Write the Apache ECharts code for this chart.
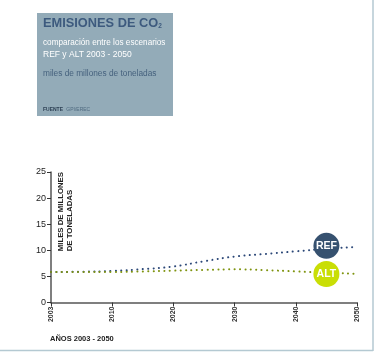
<!DOCTYPE html>
<html>
<head>
<meta charset="utf-8">
<script src="https://cdn.jsdelivr.net/npm/echarts@6/dist/echarts.min.js"></script>
<style>
html,body{margin:0;padding:0;background:#fff;}
#c{width:381px;height:354px;}
</style>
</head>
<body>
<div id="c"></div>
<script>
// tick labels (equally spaced on the axis)
var tickLabels = ['2003', '2010', '2020', '2030', '2040', '2050'];
// positions along the axis (index of tick, halves between ticks)
var positions = [0, 0.5, 1, 1.5, 2, 2.5, 3, 3.5, 4, 4.5, 5];
var refValues = [5.85, 5.9, 6.05, 6.4, 6.9, 7.9, 8.8, 9.3, 9.8, 10.3, 10.65];
var altValues = [5.85, 5.85, 5.85, 5.95, 6.1, 6.25, 6.35, 6.2, 5.95, 5.7, 5.5];
var yTicks = [0, 5, 10, 15, 20, 25];
var badgePos = 4.5;
var refBadge = 10.85;
var altBadge = 5.45;

function pairs(xs, ys) { return xs.map(function (x, i) { return [x, ys[i]]; }); }

var chart = echarts.init(document.getElementById('c'), null, {renderer: 'canvas'});
var fontF = '"Liberation Sans", Arial, sans-serif';
chart.setOption({
  animation: false,
  backgroundColor: '#ffffff',
  grid: {left: 51, right: 24, top: 172, bottom: 51.5},
  xAxis: {
    type: 'value', min: 0, max: 5, interval: 1,
    axisLine: {lineStyle: {color: '#555', width: 1.5}},
    axisTick: {show: true, length: 4, lineStyle: {color: '#333', width: 1}},
    splitLine: {show: false},
    axisLabel: {
      formatter: function (v) { return tickLabels[Math.round(v)] || ''; },
      rotate: 90, fontSize: 7, fontWeight: 'bold', color: '#333', fontFamily: fontF, margin: 4
    }
  },
  yAxis: {
    type: 'value', min: yTicks[0], max: yTicks[yTicks.length - 1], interval: 5,
    axisLine: {show: true, lineStyle: {color: '#555', width: 1.5}},
    axisTick: {show: true, length: 4, lineStyle: {color: '#333', width: 1}},
    splitLine: {show: false},
    axisLabel: {fontSize: 9, color: '#222', fontFamily: fontF, margin: 5}
  },
  series: [
    {
      type: 'line', smooth: true, symbol: 'none',
      data: pairs(positions, refValues),
      lineStyle: {color: '#2c4878', width: 2, type: [0.1, 5.3], cap: 'round'},
      z: 2
    },
    {
      type: 'line', smooth: true, symbol: 'none',
      data: pairs(positions, altValues),
      lineStyle: {color: '#7f9410', width: 2, type: [0.1, 5.3], cap: 'round'},
      z: 2
    },
    {
      type: 'scatter', symbol: 'circle', symbolSize: 26,
      itemStyle: {opacity: 1},
      data: [{value: [badgePos, refBadge], itemStyle: {color: '#36516f', opacity: 1}, label: {formatter: 'REF'}},
             {value: [badgePos, altBadge], itemStyle: {color: '#c9de05', opacity: 1}, label: {formatter: 'ALT'}}],
      label: {show: true, position: 'inside', color: '#ffffff', fontSize: 10.5, fontWeight: 'bold', fontFamily: fontF},
      z: 5
    }
  ],
  graphic: [
    {type: 'rect', shape: {x: 37, y: 13, width: 136, height: 103}, style: {fill: '#93abb8'}, z: 1},
    {type: 'text', z: 5, left: 43, top: 17, style: {
      text: '{t|EMISIONES DE CO}{s|2}',
      rich: {
        t: {fontSize: 12.8, fontWeight: 'bold', fill: '#3d5a7e', fontFamily: fontF},
        s: {fontSize: 6.5, fontWeight: 'bold', fill: '#3d5a7e', fontFamily: fontF, padding: [6, 0, 0, 0]}
      }}},
    {type: 'text', z: 5, left: 43, top: 39, style: {text: 'comparación entre los escenarios', fill: '#ffffff', fontSize: 8.2, fontFamily: fontF}},
    {type: 'text', z: 5, left: 43, top: 50, style: {text: 'REF y ALT 2003 - 2050', fill: '#ffffff', fontSize: 8.5, fontFamily: fontF}},
    {type: 'text', z: 5, left: 43, top: 70, style: {text: 'miles de millones de toneladas', fill: '#46627e', fontSize: 8.3, fontFamily: fontF}},
    {type: 'text', z: 5, left: 43, top: 104, style: {
      text: '{b|FUENTE} {n|GPI/EREC}',
      rich: {
        b: {fontSize: 5, fontWeight: 'bold', fill: '#2b3e52', fontFamily: fontF},
        n: {fontSize: 5, fill: '#4f6a80', fontFamily: fontF}
      }}},
    {type: 'text', z: 5, left: 56, top: 172, rotation: Math.PI / 2, origin: [0, 0],
      style: {text: 'MILES DE MILLONES\nDE TONELADAS', fill: '#222', fontSize: 7.8, fontWeight: 'bold',
        fontFamily: fontF, align: 'right', lineHeight: 9}},
    {type: 'text', z: 5, left: 50, top: 335, style: {text: 'AÑOS 2003 - 2050', fill: '#222', fontSize: 7.5, fontWeight: 'bold', fontFamily: fontF}},
    {type: 'line', shape: {x1: 373, y1: 0, x2: 373, y2: 351}, style: {stroke: '#b4c9d2', lineWidth: 1.5}},
    {type: 'line', shape: {x1: 0, y1: 350.5, x2: 373, y2: 350.5}, style: {stroke: '#b4c9d2', lineWidth: 1.5}}
  ]
});
</script>
</body>
</html>
